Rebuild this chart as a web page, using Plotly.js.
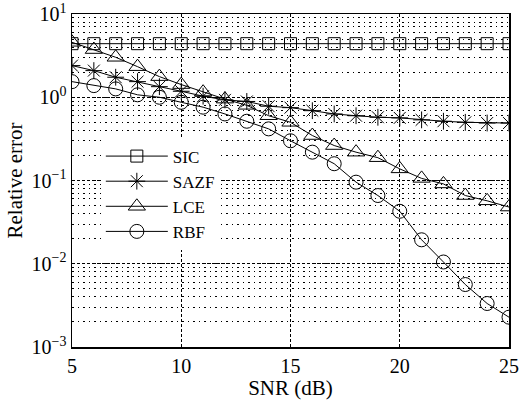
<!DOCTYPE html>
<html><head><meta charset="utf-8">
<script src="https://cdn.plot.ly/plotly-3.0.1.min.js"></script>
<style>body{margin:0;background:#fff}#c{width:528px;height:403px}</style>
</head><body><div id="c"></div>
<script>
const snr = [5,6,7,8,9,10,11,12,13,14,15,16,17,18,19,20,21,22,23,24,25];
const sic = [4.4,4.4,4.4,4.4,4.4,4.4,4.4,4.4,4.4,4.4,4.4,4.4,4.4,4.4,4.4,4.4,4.4,4.4,4.4,4.4,4.4];
const sazf = [2.4,2.09,1.74,1.54,1.34,1.18,1.03,0.93,0.89,0.78,0.75,0.69,0.63,0.6,0.575,0.565,0.535,0.515,0.5,0.49,0.49];
const lce = [4.57,3.74,3.02,2.33,1.77,1.42,1.15,0.95,0.8,0.6,0.5,0.347,0.263,0.219,0.188,0.138,0.106,0.091,0.066,0.057,0.048];
const rbf = [1.54,1.38,1.26,1.07,1.0,0.87,0.76,0.63,0.515,0.417,0.3,0.219,0.159,0.0955,0.066,0.0427,0.0194,0.0105,0.00563,0.00333,0.00228];
const names = ['SIC','SAZF','LCE','RBF'];
const series = [sic, sazf, lce, rbf];
const yTickVals = [0.001, 0.01, 0.1, 1, 10];
const yTickText = ['10<sup>\u22123</sup>','10<sup>\u22122</sup>','10<sup>\u22121</sup>','10<sup>0</sup>','10<sup>1</sup>'];
const symbols = ['square-open','asterisk-open','triangle-up-open','circle-open'];
const sizes = [12,14,15,14];
const font = 'Liberation Serif';
const traces = series.map((s,i)=>({
  x: snr, y: s, name: names[i], type:'scatter', mode:'lines+markers',
  line:{color:'#000', width:1},
  marker:{symbol:symbols[i], size:sizes[i], color:'#000', line:{color:'#000', width:1}}
}));
const layout = {
  width:528, height:403,
  margin:{l:72, r:19, t:14, b:56},
  paper_bgcolor:'#fff', plot_bgcolor:'#fff',
  font:{family:font, size:18, color:'#000'},
  showlegend:true,
  legend:{x:0.066, y:0.626, xanchor:'left', yanchor:'top', bgcolor:'#fff', borderwidth:0,
    font:{family:font, size:17}, itemwidth:62},
  xaxis:{range:[5,25], dtick:5, tick0:5, showgrid:true, gridcolor:'#000', griddash:'3px,2px', gridwidth:1,
    showline:true, linecolor:'#000', linewidth:1.5, mirror:true, ticks:'', zeroline:false,
    title:{text:'SNR (dB)', font:{family:font, size:21}, standoff:0}, tickfont:{family:font, size:20}},
  yaxis:{type:'log', range:[-3,1], tickvals:yTickVals, ticktext:yTickText, showgrid:true, gridcolor:'#000', griddash:'3px,2px', gridwidth:1,
    showline:true, linecolor:'#000', linewidth:1.5, mirror:true, ticks:'', zeroline:false,
    minor:{showgrid:true, gridcolor:'#000', griddash:'1.5px,4px', gridwidth:1, dtick:'D1', ticks:''},
    title:{text:'Relative error', font:{family:font, size:21}, standoff:3}, tickfont:{family:font, size:20}}
};
Plotly.newPlot('c', traces, layout, {displayModeBar:false, staticPlot:true});
</script></body></html>
